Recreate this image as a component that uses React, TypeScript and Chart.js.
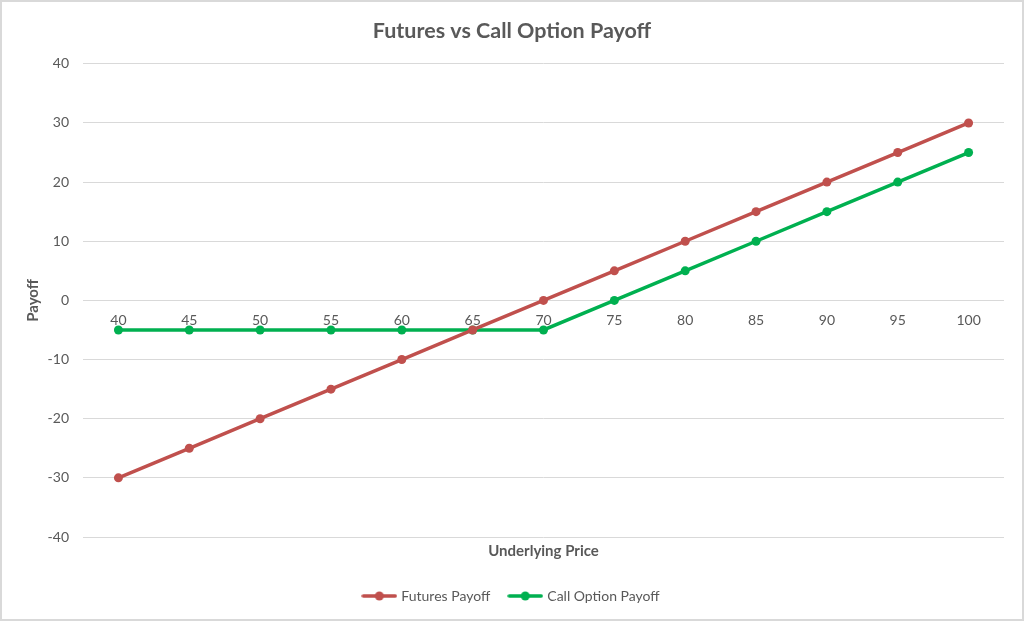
import React, { useEffect, useRef } from "react";
import { Chart, registerables } from "chart.js";

Chart.register(...registerables);

const categories = ["40", "45", "50", "55", "60", "65", "70", "75", "80", "85", "90", "95", "100"];
const futuresPayoff = [-30, -25, -20, -15, -10, -5, 0, 5, 10, 15, 20, 25, 30];
const callPayoff = [-5, -5, -5, -5, -5, -5, -5, 0, 5, 10, 15, 20, 25];
const yTicks = [-40, -30, -20, -10, 0, 10, 20, 30, 40];

const RED = "#C0504D";
const GREEN = "#00B050";
const TEXT = "#595959";
const GRID = "#D9D9D9";
const FONT = "Lato, 'Liberation Sans', sans-serif";

function legendIcon(color: string): HTMLCanvasElement {
  const c = document.createElement("canvas");
  c.width = 36;
  c.height = 12;
  const ctx = c.getContext("2d")!;
  ctx.strokeStyle = color;
  ctx.lineWidth = 3.5;
  ctx.lineCap = "round";
  ctx.beginPath();
  ctx.moveTo(2, 6);
  ctx.lineTo(34, 6);
  ctx.stroke();
  ctx.fillStyle = color;
  ctx.beginPath();
  ctx.arc(18, 6, 4.5, 0, Math.PI * 2);
  ctx.fill();
  return c;
}

export default function App() {
  const ref = useRef<HTMLCanvasElement | null>(null);

  useEffect(() => {
    document.body.style.margin = "0";
    if (!ref.current) return;
    const icons = [legendIcon(RED), legendIcon(GREEN)];
    const chart = new Chart(ref.current, {
      type: "line",
      data: {
        labels: categories,
        datasets: [
          {
            label: "Futures Payoff",
            data: futuresPayoff,
            borderColor: RED,
            backgroundColor: RED,
            borderWidth: 3.5,
            pointRadius: 4.5,
            pointHoverRadius: 4.5,
            pointBorderWidth: 0,
            tension: 0,
            xAxisID: "x",
          },
          {
            label: "Call Option Payoff",
            data: callPayoff,
            borderColor: GREEN,
            backgroundColor: GREEN,
            borderWidth: 3.5,
            pointRadius: 4.5,
            pointHoverRadius: 4.5,
            pointBorderWidth: 0,
            tension: 0,
            xAxisID: "x",
          },
        ],
      },
      options: {
        animation: false,
        responsive: false,
        maintainAspectRatio: false,
        layout: { padding: { left: 20, right: 20, top: 0, bottom: 8 } },
        scales: {
          x: {
            type: "category",
            offset: true,
            position: "bottom",
            grid: { display: false, drawTicks: false, tickLength: 0 },
            border: { display: false },
            ticks: { display: false },
            title: {
              display: true,
              text: "Underlying Price",
              color: TEXT,
              font: { family: FONT, size: 15, weight: "bold" },
              padding: { top: 0, bottom: 9 },
            },
            afterFit: (s: any) => {
              s.height = 32;
            },
          },
          x2: {
            type: "category",
            labels: categories,
            offset: true,
            position: { y: 0 } as any,
            grid: { display: false, drawTicks: false },
            border: { display: false },
            ticks: {
              color: TEXT,
              font: { family: FONT, size: 14 },
              padding: 12,
              maxRotation: 0,
              autoSkip: false,
            },
          },
          y: {
            min: -40,
            max: 40,
            afterBuildTicks: (s: any) => {
              s.ticks = yTicks.map((v) => ({ value: v }));
            },
            grid: { color: GRID, lineWidth: 1, drawTicks: false },
            border: { display: false },
            ticks: {
              color: TEXT,
              font: { family: FONT, size: 14 },
              padding: 14,
            },
            title: {
              display: true,
              text: "Payoff",
              color: TEXT,
              font: { family: FONT, size: 15, weight: "bold" },
              padding: { top: 4, bottom: 0 },
            },
            afterFit: (s: any) => {
              s.width = 63;
            },
          },
        },
        plugins: {
          title: {
            display: true,
            text: "Futures vs Call Option Payoff",
            color: TEXT,
            font: { family: FONT, size: 21.5, weight: "bold" },
            padding: { top: 18, bottom: 20 },
          },
          legend: {
            position: "bottom",
            labels: {
              color: TEXT,
              font: { family: FONT, size: 14 },
              usePointStyle: true,
              boxWidth: 30,
              boxHeight: 12,
              pointStyleWidth: 30,
              padding: 20,
              generateLabels: (ch: any) =>
                ch.data.datasets.map((ds: any, i: number) => ({
                  text: ds.label,
                  fillStyle: ds.borderColor,
                  strokeStyle: ds.borderColor,
                  fontColor: TEXT,
                  pointStyle: icons[i],
                  lineWidth: 0,
                  hidden: false,
                  datasetIndex: i,
                })),
            },
          },
          tooltip: { enabled: false },
        },
      },
    });
    return () => chart.destroy();
  }, []);

  return (
    <div
      style={{
        position: "absolute",
        left: 0,
        top: 0,
        width: 1024,
        height: 621,
        background: "#fff",
        overflow: "hidden",
      }}
    >
      <canvas ref={ref} width={1024} height={621} style={{ display: "block" }} />
      <div
        style={{
          position: "absolute",
          left: 0,
          top: 0,
          width: 1024,
          height: 621,
          boxSizing: "border-box",
          border: "2px solid #D9D9D9",
          pointerEvents: "none",
        }}
      />
    </div>
  );
}
